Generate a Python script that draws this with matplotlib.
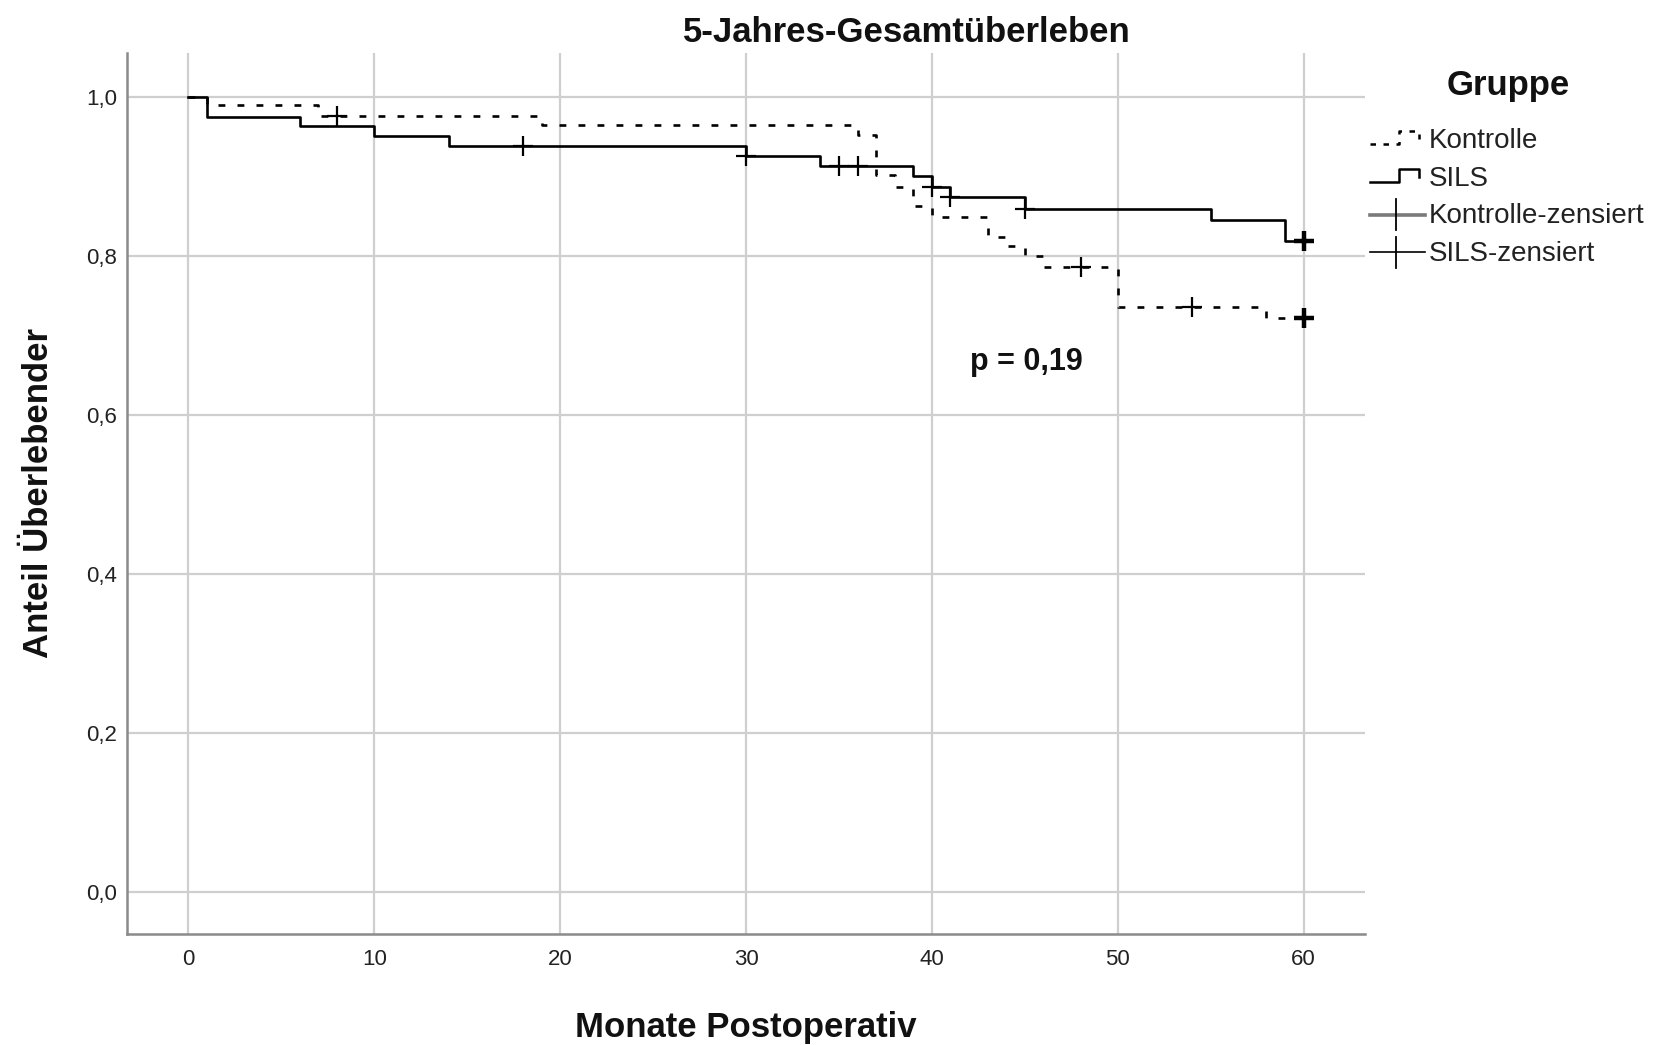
import numpy as np
import matplotlib
matplotlib.use("Agg")
import matplotlib.pyplot as plt
from matplotlib.lines import Line2D
from matplotlib.legend_handler import HandlerBase

plt.rcParams['font.family'] = ['Liberation Sans', 'DejaVu Sans']

# ---------------- data ----------------
kontrolle_times = [0, 1, 7, 19, 36, 37, 38, 39, 40, 43, 44, 45, 46, 50, 58, 60]
kontrolle_surv = [1.0, 0.989, 0.976, 0.964, 0.952, 0.902, 0.887, 0.862, 0.849,
                  0.824, 0.812, 0.800, 0.786, 0.736, 0.722, 0.722]
kontrolle_censored = [8, 48, 54]
kontrolle_censored_end = [60]

sils_times = [0, 1, 6, 10, 14, 30, 34, 39, 40, 41, 45, 55, 59, 60]
sils_surv = [1.0, 0.975, 0.963, 0.950, 0.938, 0.925, 0.913, 0.900, 0.887,
             0.874, 0.859, 0.845, 0.818, 0.818]
sils_censored = [18, 30, 35, 36, 40, 41, 45]
sils_censored_end = [60]

x_ticks = [0, 10, 20, 30, 40, 50, 60]
y_ticks = [0.0, 0.2, 0.4, 0.6, 0.8, 1.0]
y_ticklabels = ["0,0", "0,2", "0,4", "0,6", "0,8", "1,0"]

title = "5-Jahres-Gesamtüberleben"
x_label = "Monate Postoperativ"
y_label = "Anteil Überlebender"
p_text = "p = 0,19"
legend_title = "Gruppe"
legend_labels = ["Kontrolle", "SILS", "Kontrolle-zensiert", "SILS-zensiert"]


def surv_at(times, surv, t):
    idx = np.searchsorted(times, t, side='right') - 1
    return np.asarray(surv)[idx]


W, H = 1659, 1045
fig = plt.figure(figsize=(W / 100, H / 100), dpi=100)
ax = fig.add_axes([127 / W, 1 - 934 / H, (1365 - 127) / W, (934 - 53) / H])

ax.set_xlim(-3.3, 63.3)
ax.set_ylim(-0.053, 1.055)

GRID = '#cfcfcf'
for s in ['top', 'right']:
    ax.spines[s].set_visible(False)
for s in ['left', 'bottom']:
    ax.spines[s].set_color('#8a8a8a')
    ax.spines[s].set_linewidth(1.8)

ax.set_xticks(x_ticks)
ax.set_yticks(y_ticks)
ax.set_yticklabels(y_ticklabels)
ax.tick_params(axis='both', length=0, labelsize=16, colors='#222222')
ax.tick_params(axis='y', pad=7)
ax.tick_params(axis='x', pad=11)
ax.grid(True, color=GRID, linewidth=1.6, zorder=0)
ax.set_axisbelow(True)

LW = 1.9
# Kontrolle (dashed)
ax.step(kontrolle_times, kontrolle_surv, where='post', color='black', lw=LW,
        linestyle=(0, (2.6, 4.6)), zorder=3)
# SILS (solid)
ax.step(sils_times, sils_surv, where='post', color='black', lw=LW,
        linestyle='-', zorder=4)

# censor marks
for times, surv, cens, cens_end in [
        (kontrolle_times, kontrolle_surv, kontrolle_censored, kontrolle_censored_end),
        (sils_times, sils_surv, sils_censored, sils_censored_end)]:
    cy = [surv_at(times, surv, t) for t in cens]
    ax.plot(cens, cy, linestyle='none', marker='+', markersize=14,
            markeredgewidth=1.6, color='black', zorder=5)
    cy_end = [surv_at(times, surv, t) for t in cens_end]
    ax.plot(cens_end, cy_end, linestyle='none', marker='+', markersize=14,
            markeredgewidth=3.2, color='black', zorder=5)

ax.text(45.1, 0.667, p_text, fontsize=22, fontweight='bold', ha='center',
        va='center', color='#111111')

# labels
ax.set_xlabel(x_label, fontsize=25, fontweight='bold', color='#111111')
ax.xaxis.set_label_coords(0.5, (934 - 1037) / (934 - 53))
ax.xaxis.label.set_va('baseline')
ax.set_ylabel(y_label, fontsize=25, fontweight='bold', color='#111111')
ax.yaxis.label.set_va('center')
ax.yaxis.set_label_coords((39 - 127) / (1365 - 127), 0.5)

fig.text(907 / W, 1 - 42 / H, title, fontsize=25, fontweight='bold',
         ha='center', va='baseline', color='#111111')


# ---------------- legend ----------------
class StepHandler(HandlerBase):
    def __init__(self, ls):
        super().__init__()
        self.ls = ls

    def create_artists(self, legend, orig_handle, xdescent, ydescent, width,
                       height, fontsize, trans):
        x0, y0 = -xdescent, -ydescent
        xm = x0 + 0.55 * width
        xs = [x0, xm, xm, x0 + 0.93 * width, x0 + 0.93 * width]
        ys = [y0 + 0.2 * height, y0 + 0.2 * height, y0 + 0.85 * height,
              y0 + 0.85 * height, y0 + 0.45 * height]
        ln = Line2D(xs, ys, color='black', lw=1.8, linestyle=self.ls)
        ln.set_transform(trans)
        return [ln]


class CensorHandler(HandlerBase):
    def __init__(self, line_color, line_lw):
        super().__init__()
        self.lc = line_color
        self.llw = line_lw

    def create_artists(self, legend, orig_handle, xdescent, ydescent, width,
                       height, fontsize, trans):
        x0, y0 = -xdescent, -ydescent
        ym = y0 + 0.45 * height
        h = Line2D([x0, x0 + width * 1.05], [ym, ym], color=self.lc, lw=self.llw)
        v = Line2D([x0 + 0.5 * width] * 2, [ym - 0.8 * height, ym + 0.8 * height],
                   color='black', lw=1.3)
        h.set_transform(trans)
        v.set_transform(trans)
        return [h, v]


handles = [Line2D([], []) for _ in range(4)]
hmap = {handles[0]: StepHandler((0, (2.2, 3.0))),
        handles[1]: StepHandler('-'),
        handles[2]: CensorHandler('#7a7a7a', 2.6),
        handles[3]: CensorHandler('black', 1.2)}
leg = fig.legend(handles, legend_labels, handler_map=hmap, loc='upper left',
                 bbox_to_anchor=(1370 / W, 1 - 128 / H), frameon=False,
                 fontsize=20, borderpad=0, borderaxespad=0, handlelength=1.9,
                 handletextpad=0.2, labelspacing=0.42)
for t in leg.get_texts():
    t.set_color('#222222')

fig.text(1508 / W, 1 - 85 / H, legend_title, fontsize=25, fontweight='bold',
         ha='center', va='center', color='#111111')

fig.savefig('out.png', dpi=100)
